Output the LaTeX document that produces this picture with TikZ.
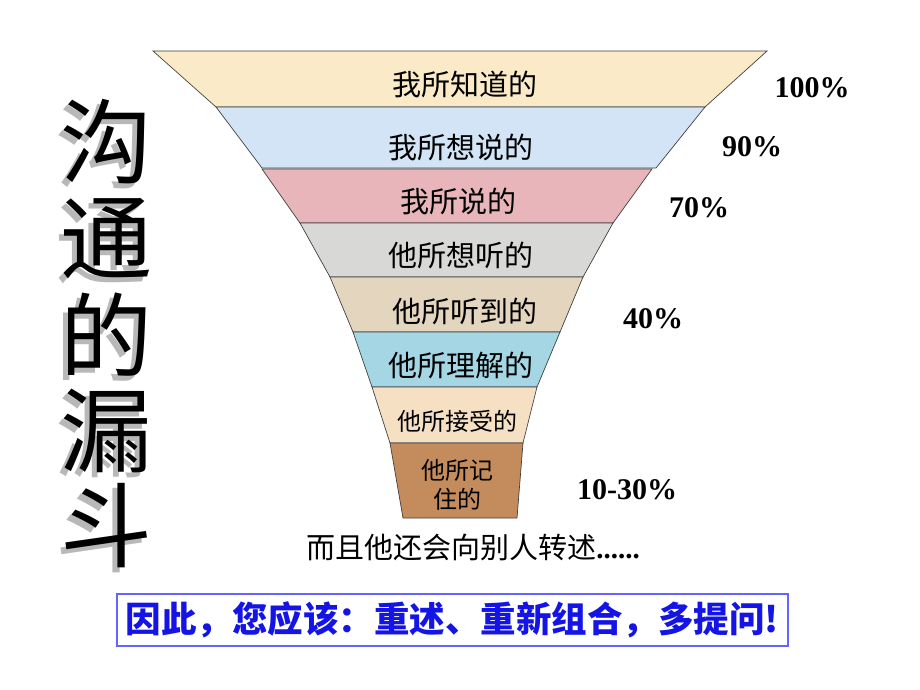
\documentclass[tikz,border=0pt]{standalone}
\usepackage{fontspec}
\setmainfont{Liberation Serif}
\newfontfamily\cjk{Noto Sans CJK SC}
\begin{document}
\begin{tikzpicture}[x=1pt,y=-1pt,
  layer/.style={draw=black!75,line width=0.7pt},
  lbl/.style={font=\cjk\fontsize{29}{32}\selectfont,inner sep=0pt},
  lbls/.style={font=\cjk\fontsize{24}{29}\selectfont,inner sep=0pt,align=center},
  pct/.style={font=\bfseries\fontsize{30}{32}\selectfont,inner sep=0pt},
  big/.style={font=\cjk\fontsize{92}{96}\selectfont,inner sep=0pt},
  bigshadow/.style={big,text=black!28}]
\useasboundingbox (0,0) rectangle (920,690);
\fill[white] (0,0) rectangle (920,690);
% funnel layers
\filldraw[layer,fill={rgb,255:red,250;green,234;blue,200}] (153,51) -- (767,51) -- (705,107) -- (216,107) -- cycle;
\filldraw[layer,fill={rgb,255:red,210;green,228;blue,245}] (216,107) -- (705,107) -- (656,168) -- (262,168) -- cycle;
\filldraw[layer,fill={rgb,255:red,232;green,182;blue,186}] (262,169) -- (652,169) -- (613,223) -- (300,223) -- cycle;
\filldraw[layer,fill={rgb,255:red,216;green,216;blue,214}] (300,223) -- (613,223) -- (583,277) -- (330,277) -- cycle;
\filldraw[layer,fill={rgb,255:red,228;green,213;blue,190}] (330,277) -- (583,277) -- (560,332) -- (353,332) -- cycle;
\filldraw[layer,fill={rgb,255:red,164;green,214;blue,228}] (353,332) -- (560,332) -- (537,387) -- (372,387) -- cycle;
\filldraw[layer,fill={rgb,255:red,246;green,224;blue,196}] (372,387) -- (537,387) -- (523,443) -- (390,443) -- cycle;
\filldraw[layer,fill={rgb,255:red,196;green,140;blue,92}] (390,443) -- (523,443) -- (517,518) -- (403,518) -- cycle;
% layer labels
\node[lbl] (l1) at (465,84) {我所知道的};
\node[lbl] (l2) at (461,147) {我所想说的};
\node[lbl] (l3) at (458,201) {我所说的};
\node[lbl] (l4) at (461,255) {他所想听的};
\node[lbl] (l5) at (465,311) {他所听到的};
\node[lbl] (l6) at (461,365) {他所理解的};
\node[lbls] (l7) at (457,421) {他所接受的};
\node[lbls] (l8) at (457,485) {他所记\\住的};
% percentages
\node[pct] (p1) at (812,88) {100\%};
\node[pct] (p2) at (752,147) {90\%};
\node[pct] (p3) at (699,208) {70\%};
\node[pct] (p4) at (653,319) {40\%};
\node[pct] (p5) at (627,490) {10-30\%};
% title with shadow
\foreach \c/\yy [count=\i] in {沟/142,通/239,的/335,漏/431,斗/526}{
  \node[bigshadow] (ts\i) at (101,\yy+5) {\c};
  \node[big] (t\i) at (106,\yy) {\c};
}
% bottom text
\node[inner sep=0pt,font=\fontsize{29}{32}\selectfont] (note) at (473,548) {{\cjk 而且他还会向别人转述}\textbf{......}};
\node[draw={rgb,255:red,100;green,100;blue,255},line width=1.5pt,minimum width=671pt,minimum height=52pt,inner sep=0pt,
  text={rgb,255:red,20;green,20;blue,230},font=\cjk\bfseries\fontsize{35.5}{38}\selectfont] (box) at (452.5,620) {因此，您应该：重述、重新组合，多提问!};
\end{tikzpicture}
\end{document}
